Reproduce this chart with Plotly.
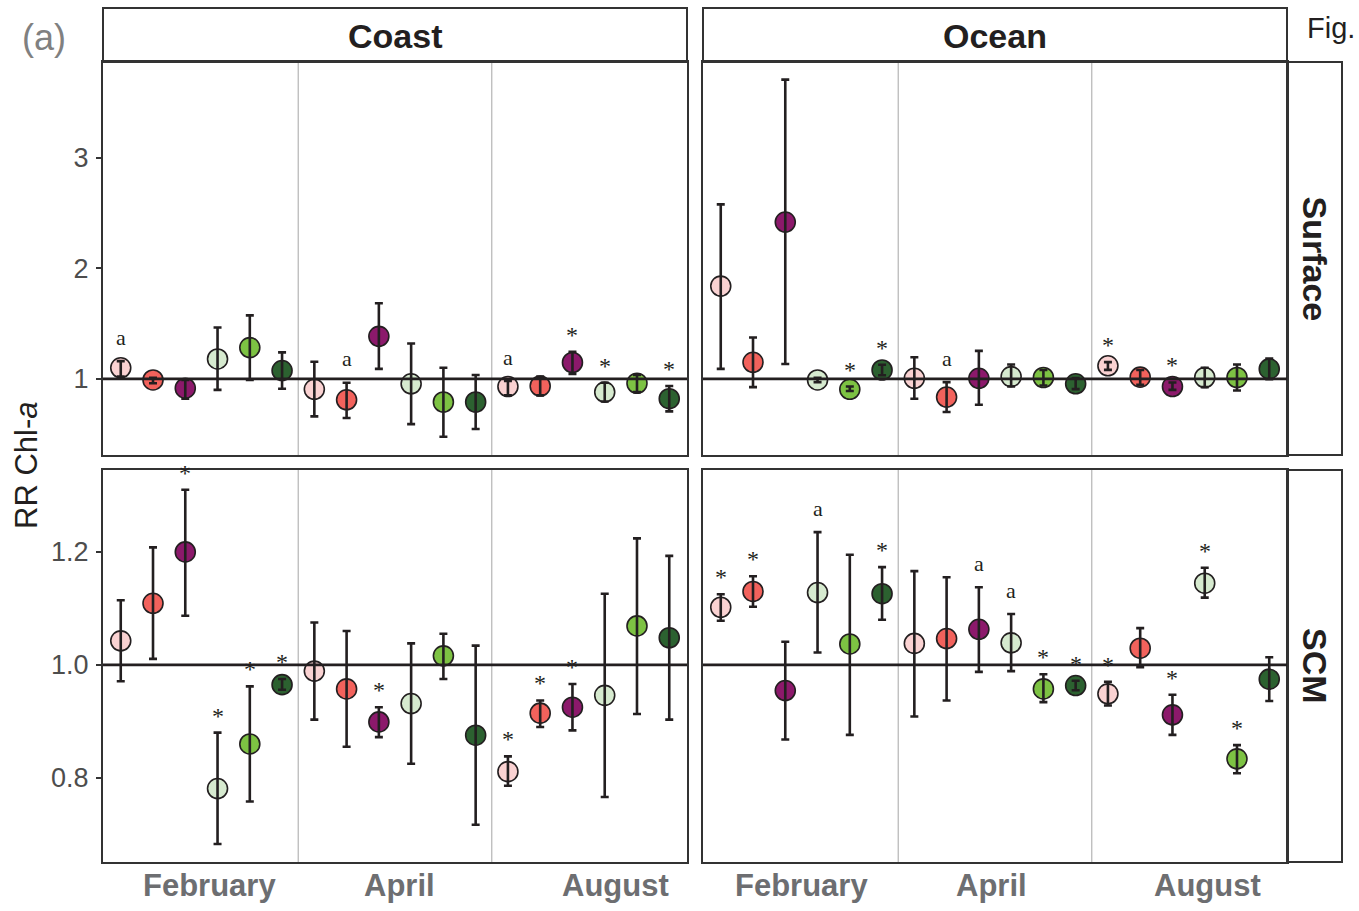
import plotly.graph_objects as go

W, H = 1359, 911

# ---------------- data ----------------
months = ["February", "April", "August"]
treatment_colors = ["#FAD2D2", "#F2625C", "#8C196B", "#D6EACF", "#7DC243", "#2C6130"]
x_pos = list(range(1, 19))  # 3 months x 6 treatments

coast_surface_mean = [1.10, 0.99, 0.915, 1.18, 1.283, 1.075, 0.905, 0.81, 1.385, 0.955, 0.79, 0.79, 0.93, 0.935, 1.148, 0.88, 0.96, 0.82]
coast_surface_lo = [1.02, 0.96, 0.82, 0.90, 0.99, 0.91, 0.66, 0.645, 1.09, 0.59, 0.475, 0.545, 0.85, 0.85, 1.045, 0.795, 0.88, 0.705]
coast_surface_hi = [1.16, 1.01, 0.99, 1.465, 1.575, 1.24, 1.155, 0.965, 1.685, 1.32, 1.10, 1.035, 0.98, 1.02, 1.245, 0.965, 1.035, 0.935]
coast_surface_sig = ["a", "", "", "", "", "", "", "a", "", "", "", "", "a", "", "*", "*", "", "*"]

ocean_surface_mean = [1.84, 1.15, 2.42, 0.99, 0.905, 1.08, 1.005, 0.835, 1.005, 1.02, 1.012, 0.955, 1.118, 1.015, 0.93, 1.012, 1.012, 1.09]
ocean_surface_lo = [1.09, 0.925, 1.135, 0.97, 0.89, 1.033, 0.82, 0.70, 0.765, 0.93, 0.94, 0.907, 1.081, 0.946, 0.90, 0.925, 0.894, 0.997]
ocean_surface_hi = [2.58, 1.375, 3.71, 1.01, 0.93, 1.127, 1.196, 0.97, 1.253, 1.13, 1.08, 1.006, 1.151, 1.08, 0.967, 1.10, 1.13, 1.184]
ocean_surface_sig = ["", "", "", "", "*", "*", "", "a", "", "", "", "", "*", "", "*", "", "", ""]

coast_scm_mean = [1.0425, 1.109, 1.20, 0.781, 0.86, 0.965, 0.989, 0.9575, 0.899, 0.9315, 1.016, 0.8755, 0.811, 0.9145, 0.925, 0.946, 1.069, 1.048]
coast_scm_lo = [0.971, 1.0106, 1.087, 0.683, 0.758, 0.956, 0.903, 0.855, 0.872, 0.825, 0.975, 0.717, 0.786, 0.89, 0.884, 0.766, 0.913, 0.903]
coast_scm_hi = [1.1145, 1.208, 1.31, 0.88, 0.962, 0.975, 1.075, 1.06, 0.925, 1.038, 1.055, 1.034, 0.838, 0.937, 0.966, 1.126, 1.224, 1.193]
coast_scm_sig = ["", "", "*", "*", "*", "*", "", "", "*", "", "", "", "*", "*", "*", "", "", ""]

ocean_scm_mean = [1.102, 1.13, 0.9545, 1.128, 1.037, 1.126, 1.038, 1.0466, 1.063, 1.039, 0.9575, 0.9634, 0.9487, 1.0295, 0.9115, 1.1446, 0.8336, 0.9747]
ocean_scm_lo = [1.078, 1.103, 0.868, 1.022, 0.876, 1.08, 0.9085, 0.937, 0.9876, 0.989, 0.934, 0.955, 0.928, 0.996, 0.876, 1.119, 0.808, 0.936]
ocean_scm_hi = [1.125, 1.157, 1.041, 1.235, 1.195, 1.173, 1.166, 1.155, 1.1375, 1.09, 0.9835, 0.972, 0.97, 1.065, 0.947, 1.172, 0.858, 1.0136]
ocean_scm_sig = ["*", "*", "", "a", "", "*", "", "", "a", "a", "*", "*", "*", "", "*", "*", "*", ""]

surface_ticks = [1, 2, 3]
scm_ticks = [0.8, 1.0, 1.2]
scm_ticktext = ["0.8", "1.0", "1.2"]

# --------------- helpers ---------------
def px(p):
    return p / W

def py(p):
    return 1 - p / H

DARK = "#231F20"
BORDER = "#333333"
SANS = "Liberation Sans, Arial, sans-serif"
SERIF = "Liberation Serif, Times New Roman, serif"

panels = [
    ("x", "y", coast_surface_mean, coast_surface_lo, coast_surface_hi, coast_surface_sig),
    ("x2", "y2", ocean_surface_mean, ocean_surface_lo, ocean_surface_hi, ocean_surface_sig),
    ("x3", "y3", coast_scm_mean, coast_scm_lo, coast_scm_hi, coast_scm_sig),
    ("x4", "y4", ocean_scm_mean, ocean_scm_lo, ocean_scm_hi, ocean_scm_sig),
]

point_colors = [treatment_colors[i % 6] for i in range(18)]

fig = go.Figure()
annotations = []
shapes = []

for xa, ya, mean, lo, hi, sig in panels:
    fig.add_trace(go.Scatter(
        x=x_pos, y=mean, xaxis=xa, yaxis=ya, mode="markers",
        marker=dict(size=20, color=point_colors, line=dict(color=DARK, width=1.6)),
        showlegend=False, hoverinfo="skip"))
    fig.add_trace(go.Scatter(
        x=x_pos, y=mean, xaxis=xa, yaxis=ya, mode="markers",
        marker=dict(size=1, color="rgba(0,0,0,0)"),
        error_y=dict(type="data", symmetric=False,
                     array=[h - m for h, m in zip(hi, mean)],
                     arrayminus=[m - l for m, l in zip(mean, lo)],
                     color=DARK, thickness=2.6, width=4),
        showlegend=False, hoverinfo="skip"))
    for xi, h, s in zip(x_pos, hi, sig):
        if s:
            annotations.append(dict(
                x=xi, y=h, xref=xa, yref=ya, text=s, showarrow=False,
                yanchor="middle", yshift=24 if s == "a" else 17,
                font=dict(family=SERIF, size=22 if s == "a" else 24, color=DARK)))
    # month separators
    for sep in (6.5, 12.5):
        shapes.append(dict(type="line", xref=xa, yref=ya + " domain", x0=sep, x1=sep, y0=0, y1=1,
                           line=dict(color="#A6A6A6", width=1), layer="below"))
    # reference line at 1
    shapes.append(dict(type="line", xref=xa + " domain", yref=ya, x0=0, x1=1, y0=1, y1=1,
                       line=dict(color=DARK, width=2.6), layer="above"))

# ---------------- axes ----------------
x_common = dict(range=[0.45, 18.55], showticklabels=False, ticks="", showgrid=False, zeroline=False,
                showline=True, mirror=True, linecolor=BORDER, linewidth=2)
y_common = dict(showgrid=False, zeroline=False, showline=True, mirror=True, linecolor=BORDER, linewidth=2)

left_dom = [px(103), px(687)]
right_dom = [px(703), px(1287)]
top_dom = [py(455), py(62)]
bot_dom = [py(862), py(470)]

tick_style = dict(ticks="outside", ticklen=5, tickwidth=2, tickcolor=BORDER, ticklabelstandoff=2,
                  tickfont=dict(family=SANS, size=27, color="#4D4D4D"))

fig.update_layout(
    xaxis=dict(domain=left_dom, anchor="y", **x_common),
    xaxis2=dict(domain=right_dom, anchor="y2", **x_common),
    xaxis3=dict(domain=left_dom, anchor="y3", **x_common),
    xaxis4=dict(domain=right_dom, anchor="y4", **x_common),
    yaxis=dict(domain=top_dom, anchor="x", range=[0.31, 3.87], tickvals=surface_ticks, **tick_style, **y_common),
    yaxis2=dict(domain=top_dom, anchor="x2", range=[0.31, 3.87], showticklabels=False, ticks="", **y_common),
    yaxis3=dict(domain=bot_dom, anchor="x3", range=[0.651, 1.345], tickvals=scm_ticks, ticktext=scm_ticktext,
                **tick_style, **y_common),
    yaxis4=dict(domain=bot_dom, anchor="x4", range=[0.651, 1.345], showticklabels=False, ticks="", **y_common),
)

# ---------------- strips ----------------
strip_line = dict(color=BORDER, width=2)
for x0, x1, label in ((103, 687, "Coast"), (703, 1287, "Ocean")):
    shapes.append(dict(type="rect", xref="paper", yref="paper", x0=px(x0), x1=px(x1), y0=py(62), y1=py(8),
                       fillcolor="white", line=strip_line, layer="below"))
    annotations.append(dict(x=px((x0 + x1) / 2), y=py(36), xref="paper", yref="paper", text="<b>" + label + "</b>",
                            showarrow=False, xanchor="center", yanchor="middle",
                            font=dict(family=SANS, size=34, color=DARK)))
for y0, y1, label in ((62, 455, "Surface"), (470, 862, "SCM")):
    shapes.append(dict(type="rect", xref="paper", yref="paper", x0=px(1287), x1=px(1342), y0=py(y1), y1=py(y0),
                       fillcolor="white", line=strip_line, layer="below"))
    annotations.append(dict(x=px(1315), y=py((y0 + y1) / 2), xref="paper", yref="paper", text="<b>" + label + "</b>",
                            showarrow=False, textangle=90, xanchor="center", yanchor="middle",
                            font=dict(family=SANS, size=34, color=DARK)))

# ---------------- month labels ----------------
month_px = {"Coast": (209, 399, 615), "Ocean": (801, 991, 1207)}
for key in ("Coast", "Ocean"):
    for m, xp in zip(months, month_px[key]):
        annotations.append(dict(x=px(xp), y=py(885), xref="paper", yref="paper", text="<b>" + m + "</b>",
                                showarrow=False, xanchor="center", yanchor="middle",
                                font=dict(family=SANS, size=31, color="#6D6E71")))

# ---------------- other texts ----------------
annotations.append(dict(x=px(27), y=py(466), xref="paper", yref="paper", text="RR Chl-<i>a</i>",
                        showarrow=False, textangle=-90, xanchor="center", yanchor="middle",
                        font=dict(family=SANS, size=31, color=DARK)))
annotations.append(dict(x=px(44), y=py(38), xref="paper", yref="paper", text="(a)",
                        showarrow=False, xanchor="center", yanchor="middle",
                        font=dict(family=SANS, size=36, color="#808080")))
annotations.append(dict(x=px(1305), y=py(28), xref="paper", yref="paper", text="Fig.",
                        showarrow=False, xanchor="left", yanchor="middle",
                        font=dict(family=SANS, size=29, color=DARK)))

fig.update_layout(
    width=W, height=H, margin=dict(l=0, r=0, t=0, b=0),
    paper_bgcolor="white", plot_bgcolor="white",
    shapes=shapes, annotations=annotations, showlegend=False,
)

fig.write_html("out.html")
